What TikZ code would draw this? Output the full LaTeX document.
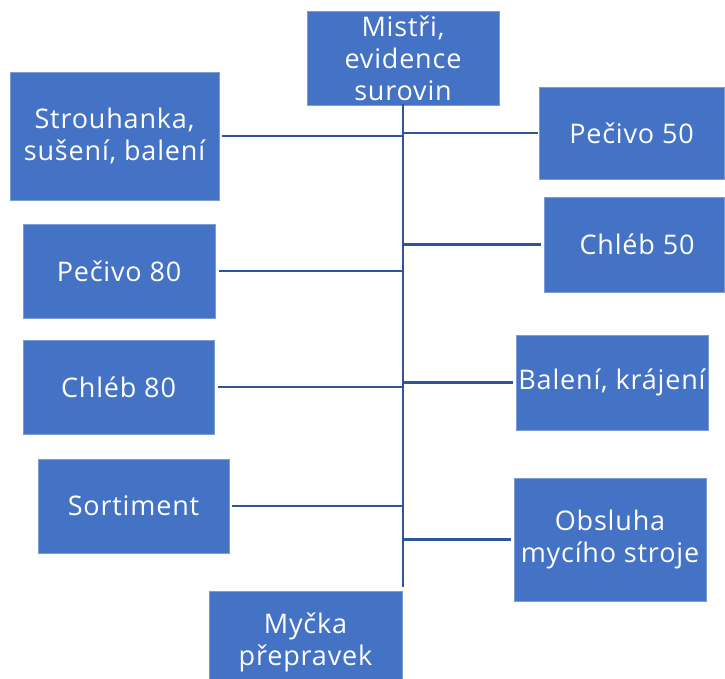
\documentclass[tikz,border=0pt]{standalone}
\usepackage{fontspec}
\setmainfont{Open Sans}[LetterSpace=3]
\definecolor{boxblue}{HTML}{4472C4}
\definecolor{lineblue}{HTML}{2F5597}
\begin{document}
\begin{tikzpicture}[x=1pt,y=-1pt,
  box/.style={rectangle, fill=boxblue, draw=boxblue!70!white, line width=0.6pt, text=white, align=center,
    font=\fontsize{27}{32}\selectfont, inner sep=0pt},
  conn/.style={draw=lineblue, line width=2.8pt}]
\useasboundingbox (0,0) rectangle (725,679);
\node[box, minimum width=192, minimum height=94] (top) at (403,58.5) {Mistři,\\evidence\\surovin};
\node[box, minimum width=209, minimum height=128] (strouh) at (114.5,136) {Strouhanka,\\sušení, balení};
\node[box, minimum width=185, minimum height=92] (pec50) at (631.5,133) {Pečivo 50};
\node[box, minimum width=180, minimum height=95] (chl50) at (634,244.5) {\hspace*{6pt}Chléb 50};
\node[box, minimum width=192, minimum height=94] (pec80) at (119,271) {Pečivo 80};
\node[box, minimum width=191, minimum height=94] (chl80) at (118.5,387) {Chléb 80};
\node[box, minimum width=192, minimum height=95] (bal) at (612,382.5) {Balení, krájení};
\node[box, minimum width=191, minimum height=94] (sort) at (133.5,506) {Sortiment};
\node[box, minimum width=192, minimum height=123] (obs) at (610,539.5) {Obsluha\\mycího stroje};
\node[box, minimum width=193, minimum height=102] (mycka) at (305.5,642) {Myčka\\přepravek};
\coordinate (trunk) at (403,0);
\coordinate (trunkend) at (403,587);
\draw[conn] ([yshift=2]top.south) -- (trunkend);
\draw[conn] ([xshift=3]strouh.east) -- (strouh.east -| trunk);
\draw[conn] ([xshift=4]pec80.east) -- (pec80.east -| trunk);
\draw[conn] ([xshift=4]chl80.east) -- (chl80.east -| trunk);
\draw[conn] ([xshift=3]sort.east) -- (sort.east -| trunk);
\draw[conn] ([xshift=-1]pec50.west) -- (pec50.west -| trunk);
\draw[conn] ([xshift=-3]chl50.west) -- (chl50.west -| trunk);
\draw[conn] ([xshift=-3]bal.west) -- (bal.west -| trunk);
\draw[conn] ([xshift=-3]obs.west) -- (obs.west -| trunk);
\end{tikzpicture}
\end{document}
